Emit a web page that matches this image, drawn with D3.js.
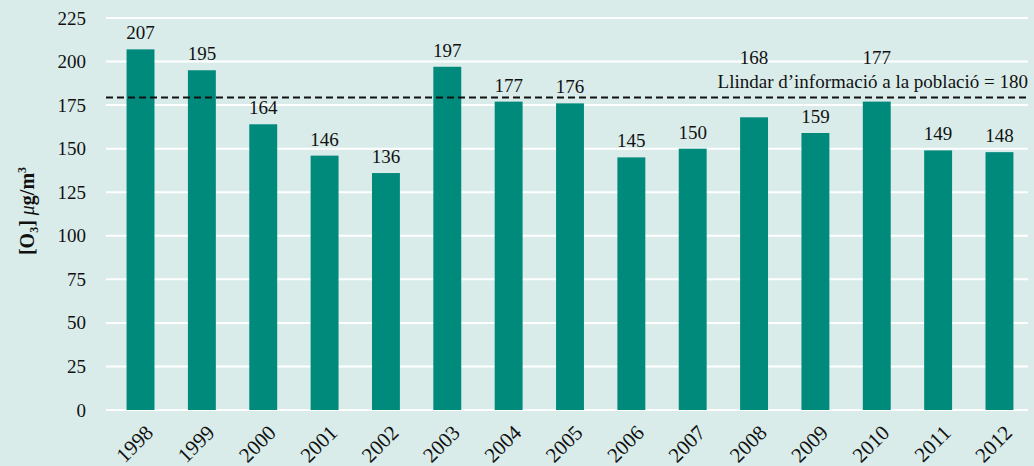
<!DOCTYPE html>
<html><head><meta charset="utf-8">
<script src="https://cdn.jsdelivr.net/npm/d3@7"></script>
<style>
html,body{margin:0;padding:0;background:#d9ecea;}
svg{display:block;}
text{font-family:"Liberation Serif","DejaVu Serif",serif;fill:#111;}
</style></head>
<body><svg id="c" width="1034" height="466"></svg>
<script>
const years = ["1998","1999","2000","2001","2002","2003","2004","2005","2006","2007","2008","2009","2010","2011","2012"];
const values = [207,195,164,146,136,197,177,176,145,150,168,159,177,149,148];
const yTicks = [0,25,50,75,100,125,150,175,200,225];
const threshold = 180;
const thresholdLabel = "Llindar d\u2019informació a la població = 180";
const raisedLabels = ["2008","2010"];

const svg = d3.select("#c");
const W = 1034, H = 466;
const FONT = "'Liberation Serif', 'DejaVu Serif', serif";
svg.append("rect").attr("width",W).attr("height",H).attr("fill","#d9ecea");

const y = d3.scaleLinear().domain([0,225]).range([410,18]);
const x = d3.scaleBand().domain(years).range([110,1030]).paddingInner(0.545).paddingOuter(0.27);

// grid
svg.append("g").selectAll("line").data(yTicks).join("line")
  .attr("x1",106).attr("x2",1028)
  .attr("y1",d=>y(d)).attr("y2",d=>y(d))
  .attr("stroke","#ffffff").attr("stroke-width",2);

// y tick labels
const yAxis = d3.axisLeft(y).tickValues(yTicks).tickSize(0).tickPadding(0);
const ga = svg.append("g").attr("transform","translate(86,0)").call(yAxis);
ga.select(".domain").remove();
ga.selectAll("text").attr("font-size",19).attr("font-family",FONT).attr("fill","#111").attr("dy","0.32em");

// bars
svg.append("g").selectAll("rect").data(values).join("rect")
  .attr("x",(d,i)=>x(years[i]))
  .attr("width",x.bandwidth())
  .attr("y",d=>y(d))
  .attr("height",d=>y(0)-y(d))
  .attr("fill","#008a7c");

// value labels
svg.append("g").selectAll("text").data(values).join("text")
  .attr("x",(d,i)=>x(years[i])+x.bandwidth()/2)
  .attr("y",(d,i)=> raisedLabels.includes(years[i]) ? y(202)+6 : y(d)-10)
  .attr("text-anchor","middle").attr("font-size",19).attr("font-family",FONT)
  .text(d=>d);

// threshold line
svg.append("line").attr("x1",106).attr("x2",1028)
  .attr("y1",y(threshold)+1).attr("y2",y(threshold)+1)
  .attr("stroke","#111").attr("stroke-width",2).attr("stroke-dasharray","7,4");
svg.append("text").attr("x",1028).attr("y",y(threshold)-8)
  .attr("text-anchor","end").attr("font-size",19).attr("font-family",FONT).text(thresholdLabel);

// x labels
const xAxis = d3.axisBottom(x).tickSize(0).tickPadding(0);
const gx = svg.append("g").attr("transform","translate(0,410)").call(xAxis);
gx.select(".domain").remove();
gx.selectAll("text")
  .attr("font-size",21).attr("font-family",FONT).attr("fill","#111")
  .attr("text-anchor","end").attr("dy",null).attr("y",0).attr("x",0)
  .attr("transform","translate(14,24) rotate(-45)");

// y title
const t = svg.append("text").attr("transform","translate(34,211) rotate(-90)")
  .attr("text-anchor","middle").attr("font-size",20).attr("font-weight","bold").attr("font-family",FONT);
t.append("tspan").text("[O");
t.append("tspan").attr("font-size",12).attr("dy",4).text("3");
t.append("tspan").attr("dy",-4).text("] ");
t.append("tspan").attr("font-style","italic").attr("font-weight","normal").text("\u03BC");
t.append("tspan").text("g/m");
t.append("tspan").attr("font-size",12).attr("dy",-8).text("3");
</script></body></html>
